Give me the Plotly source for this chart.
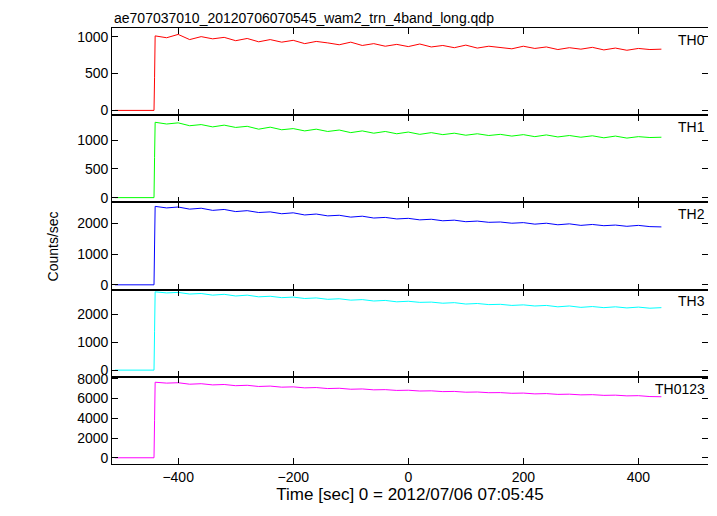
import plotly.graph_objects as go
from plotly.subplots import make_subplots

time = list(range(-440, 441, 20))
pre_time = [-510, -442, -441]

th0 = [1010, 985, 1030, 960, 1000, 970, 990, 945, 975, 930, 960, 925, 950, 905, 935, 915, 890, 925, 880, 905, 870, 895, 865,
       900, 860, 880, 850, 885, 845, 870, 855, 835, 870, 840, 860, 825, 850, 830, 855, 820, 845, 815, 840, 825, 830]
th1 = [1310, 1280, 1300, 1250, 1270, 1230, 1260, 1220, 1240, 1190, 1225, 1180, 1200, 1160, 1190, 1150, 1175, 1130, 1160, 1120,
       1150, 1110, 1140, 1100, 1130, 1095, 1120, 1085, 1110, 1080, 1100, 1070, 1095, 1060, 1090, 1055, 1080, 1050, 1075, 1040,
       1070, 1035, 1060, 1045, 1050]
th2 = [2560, 2510, 2540, 2470, 2500, 2430, 2460, 2390, 2420, 2360, 2380, 2320, 2350, 2280, 2310, 2250, 2270, 2210, 2240, 2180,
       2200, 2150, 2170, 2120, 2140, 2090, 2110, 2060, 2080, 2040, 2050, 2010, 2030, 1980, 2010, 1960, 1990, 1940, 1970, 1930,
       1950, 1910, 1940, 1900, 1890]
th3 = [2820, 2780, 2800, 2740, 2760, 2700, 2730, 2670, 2700, 2640, 2660, 2610, 2630, 2580, 2600, 2550, 2570, 2520, 2540, 2490,
       2510, 2460, 2480, 2440, 2450, 2410, 2430, 2380, 2400, 2360, 2370, 2330, 2350, 2310, 2330, 2280, 2310, 2260, 2290, 2250,
       2280, 2240, 2270, 2230, 2250]
th0123 = [7650, 7560, 7600, 7450, 7500, 7380, 7420, 7300, 7340, 7220, 7260, 7150, 7180, 7080, 7110, 7010, 7040, 6940, 6970, 6880,
          6900, 6820, 6840, 6760, 6780, 6700, 6720, 6640, 6660, 6590, 6600, 6530, 6550, 6470, 6500, 6420, 6440, 6370, 6390, 6320,
          6340, 6270, 6290, 6200, 6180]
pre_vals = [[0, 0, 450], [0, 0, 700], [0, 0, 1300], [0, 0, 1400], [0, 0, 3800]]

names = ['TH0', 'TH1', 'TH2', 'TH3', 'TH0123']
series = [th0, th1, th2, th3, th0123]
colors = ['#ff0000', '#00ff00', '#0000ff', '#00ffff', '#ff00ff']
yranges = [[-65, 1117], [-83, 1433], [-156, 2690], [-240, 2900], [-630, 8200]]
ytickvals = [[0, 500, 1000], [0, 500, 1000], [0, 1000, 2000], [0, 1000, 2000, 3000], [0, 2000, 4000, 6000, 8000]]

fig = make_subplots(rows=5, cols=1, shared_xaxes=True, vertical_spacing=0)

for i in range(5):
    fig.add_trace(go.Scatter(x=pre_time + time, y=pre_vals[i] + series[i], mode='lines',
                             line=dict(color=colors[i], width=1), showlegend=False), row=i + 1, col=1)
    fig.update_yaxes(range=yranges[i], tickvals=ytickvals[i], row=i + 1, col=1)
    yref = 'y domain' if i == 0 else f'y{i + 1} domain'
    fig.add_annotation(text=names[i], xref='x domain', yref=yref, x=0.998, y=0.98, xanchor='right', yanchor='top',
                       showarrow=False, font=dict(size=14, color='black'))

axis_style = dict(showline=True, linecolor='black', linewidth=0.8, mirror='ticks', ticks='inside',
                  ticklen=6, tickcolor='black', tickwidth=0.8, showgrid=False, zeroline=False)
fig.update_xaxes(range=[-515, 521], tickvals=[-400, -200, 0, 200, 400], **axis_style)
fig.update_yaxes(**axis_style)
fig.update_xaxes(title_text='Time [sec] 0 = 2012/07/06 07:05:45', title_standoff=0, row=5, col=1)

fig.add_annotation(text='Counts/sec', xref='paper', yref='paper', x=-0.115, y=0.5, textangle=-90,
                   showarrow=False, font=dict(size=14))
fig.add_annotation(text='ae707037010_20120706070545_wam2_trn_4band_long.qdp', xref='paper', yref='paper',
                   x=0, y=1, xanchor='left', yanchor='bottom', showarrow=False, font=dict(size=14))

fig.update_layout(plot_bgcolor='white', paper_bgcolor='white',
                  margin=dict(l=104, r=0, t=20, b=44),
                  font=dict(family='Liberation Sans, Arial', size=14, color='black'))

fig.write_html("out.html")
